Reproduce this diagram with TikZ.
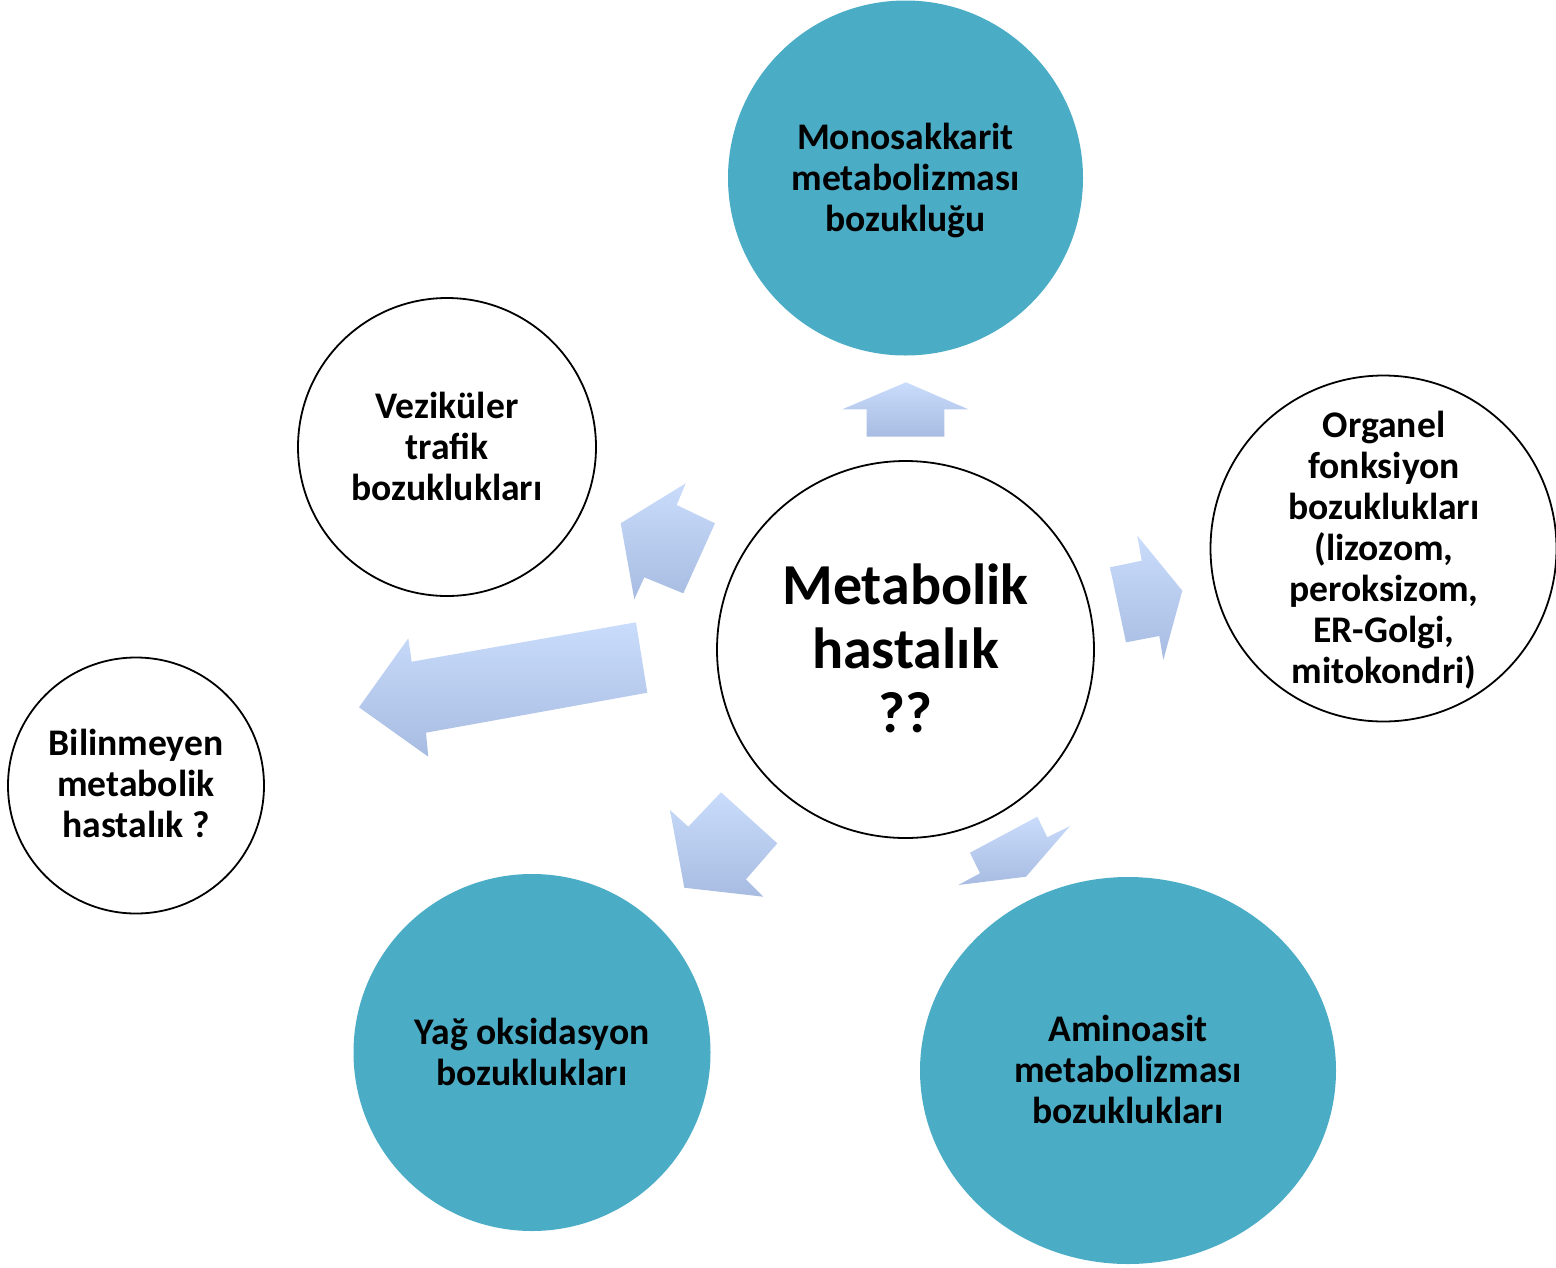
\documentclass[tikz,border=0pt]{standalone}
\usepackage{fontspec}
\setmainfont{Carlito}
\usetikzlibrary{shapes.geometric}
\definecolor{tealfill}{RGB}{75,172,198}
\definecolor{arrtop}{RGB}{201,220,251}
\definecolor{arrbot}{RGB}{168,188,226}
\begin{document}
\begin{tikzpicture}[x=1pt,y=-1pt,
  lbl/.style={font=\bfseries\fontsize{37.6}{41}\selectfont, align=center, text=black, inner sep=0pt},
  bigl/.style={font=\bfseries\fontsize{58}{64}\selectfont, align=center, text=black, inner sep=0pt},
  filled/.style={circle, fill=tealfill, draw=none},
  ring/.style={circle, fill=white, draw=black, line width=1.8pt},
  blockarrow/.style={top color=arrtop, bottom color=arrbot, draw=none}
]
\useasboundingbox (0,0) rectangle (1556,1267);

% block arrows radiating from the centre
\shade[blockarrow] (906,382.3) -- (968.3,409.3) -- (944.3,409.3) -- (944.3,436.7)
  -- (866.7,436.7) -- (866.7,409.3) -- (842.3,409.3) -- cycle;
\shade[blockarrow] (620.7,523.3) -- (685.7,483.3) -- (676.7,505) -- (715,523.3)
  -- (683.3,593.3) -- (644.3,577.3) -- (634.3,599.3) -- cycle;
\shade[blockarrow] (359,707.3) -- (408.3,638.3) -- (411.7,661.7) -- (636,622.3)
  -- (647.3,692.7) -- (426,732.7) -- (428.3,756.7) -- cycle;
\shade[blockarrow] (1182.3,590.7) -- (1163.3,660) -- (1159.3,636) -- (1126,642.3)
  -- (1110,567.3) -- (1141.7,560.7) -- (1137.3,535.7) -- cycle;
\shade[blockarrow] (684.3,887.7) -- (670,810) -- (688.3,826.7) -- (721,792.3)
  -- (777.3,843.3) -- (746,879.3) -- (763.3,896.7) -- cycle;
\shade[blockarrow] (958.3,885) -- (980,873.3) -- (970,852.7) -- (1037.3,816.7)
  -- (1047.3,837.3) -- (1070,826) -- (1026,876.7) -- cycle;

% centre
\node[ring, minimum size=377pt] (center) at (905.5,649.5) {};
\node[bigl] (centertxt) at (905.5,648) {Metabolik\\hastalık\\??};

% filled categories
\node[filled, minimum size=355pt] (mono) at (905.5,178) {};
\node[lbl] (monotxt) at (905.5,180) {Monosakkarit\\metabolizması\\bozukluğu};

\node[filled, minimum size=357pt] (yag) at (532,1052.5) {};
\node[lbl] (yagtxt) at (532,1052) {Yağ oksidasyon\\bozuklukları};

\node[ellipse, fill=tealfill, draw=none, minimum width=416pt, minimum height=387pt] (amino) at (1128,1070.5) {};
\node[lbl] (aminotxt) at (1128,1069.5) {Aminoasit\\metabolizması\\bozuklukları};

% outlined categories
\node[ring, minimum size=298pt] (vez) at (447,447) {};
\node[lbl] (veztxt) at (447,446.5) {Veziküler\\trafik\\bozuklukları};

\node[ring, minimum size=346pt] (org) at (1383.5,548.5) {};
\node[lbl] (orgtxt) at (1384,550) {Organel\\fonksiyon\\bozuklukları\\(lizozom,\\peroksizom,\\ER-Golgi,\\mitokondri)};

\node[ring, minimum size=256pt] (bil) at (136,785.5) {};
\node[lbl] (biltxt) at (136,783.5) {Bilinmeyen\\metabolik\\hastalık ?};
\end{tikzpicture}
\end{document}
